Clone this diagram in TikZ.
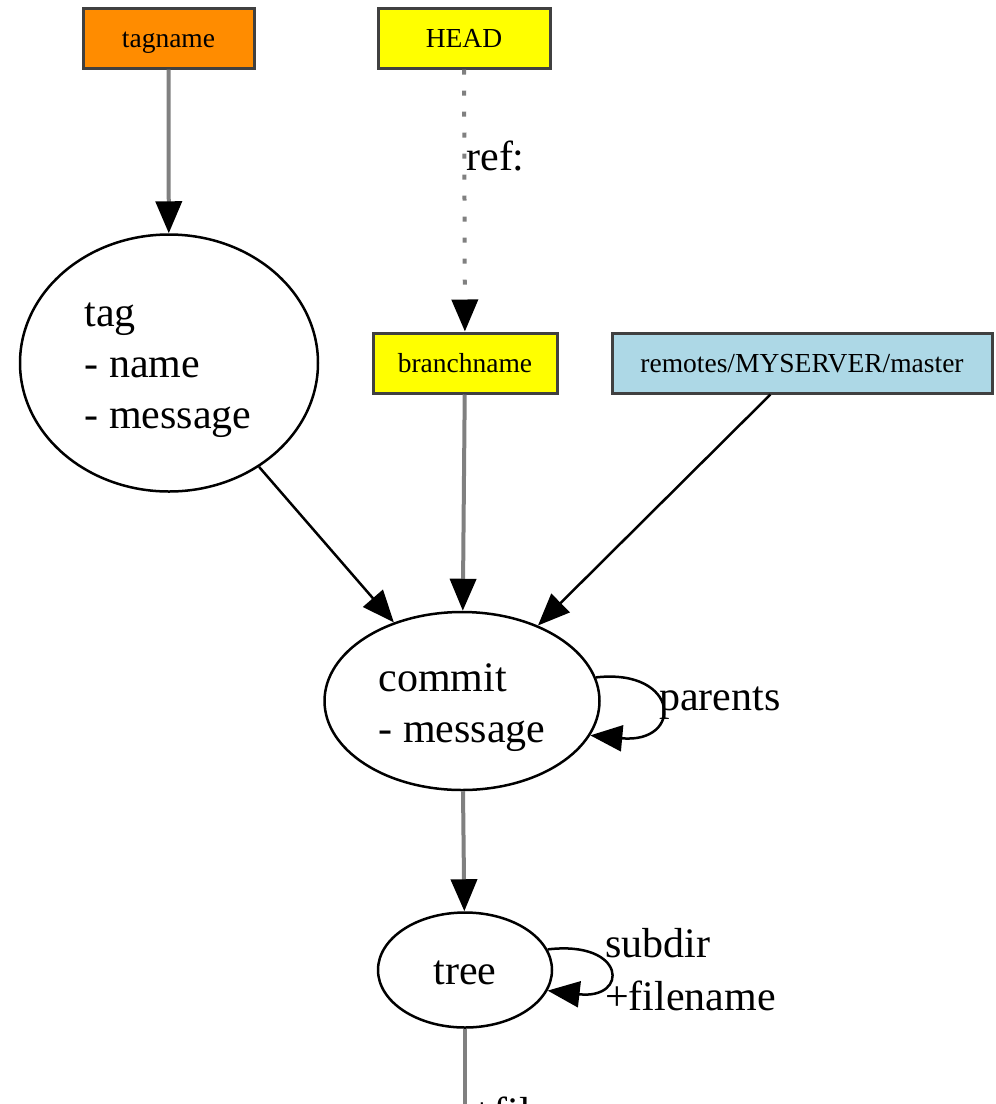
\documentclass[tikz,border=0pt]{standalone}
\usepackage{fontspec}
\setmainfont{Liberation Serif}
\usetikzlibrary{shapes.geometric,arrows.meta}
\definecolor{edgegray}{HTML}{808080}
\definecolor{tagorange}{HTML}{FF8C00}
\definecolor{refblue}{HTML}{ADD8E6}
\definecolor{refyellow}{HTML}{FFFF00}
\begin{document}
\begin{tikzpicture}[x=1pt,y=-1pt,
  refbox/.style={draw=black!75, line width=3pt, minimum height=60pt, inner sep=0pt,
    text height=22pt, text depth=4pt, font=\fontsize{27.5}{33}\selectfont},
  obj/.style={ellipse, draw=black, line width=2.5pt, inner sep=0pt},
  objtext/.style={inner sep=0pt, align=left, font=\fontsize{42}{51}\selectfont},
  tip/.style={-{Triangle[length=32pt,width=26pt,color=black,fill=black]}},
  grayedge/.style={tip, draw=edgegray, line width=4pt},
  blackedge/.style={tip, draw=black, line width=2.5pt},
  lbl/.style={font=\fontsize{42}{53}\selectfont, align=left, inner sep=0pt, anchor=west}]
\useasboundingbox (0,0) rectangle (996,1104);
\clip (0,0) rectangle (996,1104);

% references
\node[refbox, fill=tagorange, minimum width=171pt] (tagname) at (168.5,38) {tagname};
\node[refbox, fill=refyellow, minimum width=172pt] (head) at (464,38) {HEAD};
\node[refbox, fill=refyellow, minimum width=184pt] (branch) at (465,363) {branchname};
\node[refbox, fill=refblue, minimum width=380pt] (remote) at (802,363) {remotes/MYSERVER/master};

% objects: outline and its text
\node[obj, minimum width=298pt, minimum height=257pt] (tag) at (169,363) {};
\node[objtext] (tagtext) at (168,370) {tag\\- name\\- message};
\node[obj, minimum width=275pt, minimum height=178pt] (commit) at (462,701) {};
\node[objtext] (committext) at (462,708) {commit\\- message};
\node[obj, minimum width=174pt, minimum height=115pt] (tree) at (465,970) {};
\node[objtext] (treetext) at (465,973) {tree};
\coordinate (treeout) at (465,1140);

% connectors
\draw[grayedge] (tagname) -- (tag);
\draw[grayedge, dash pattern=on 5pt off 16pt] (head) -- node[lbl, pos=0.33] (reflbl) {ref:} (branch);
\draw[blackedge] (tag) -- (commit);
\draw[grayedge] (branch) -- (commit);
\draw[blackedge] (remote) -- (commit);
\draw[blackedge] (commit.10) .. controls (680,668) and (684,744) .. (commit.-15);
\node[lbl] (parentslbl) at (659,703) {parents};
\draw[grayedge] (commit) -- (tree);
\draw[blackedge] (tree.14) .. controls (627,940) and (629,1000) .. (tree.-14);
\node[lbl] (treelbl) at (605,970) {subdir\\+filename};
\draw[draw=edgegray, line width=4pt] (tree) -- (treeout);
\node[lbl, anchor=base west] (bloblbl) at (470,1126) {+filename};
\end{tikzpicture}
\end{document}
